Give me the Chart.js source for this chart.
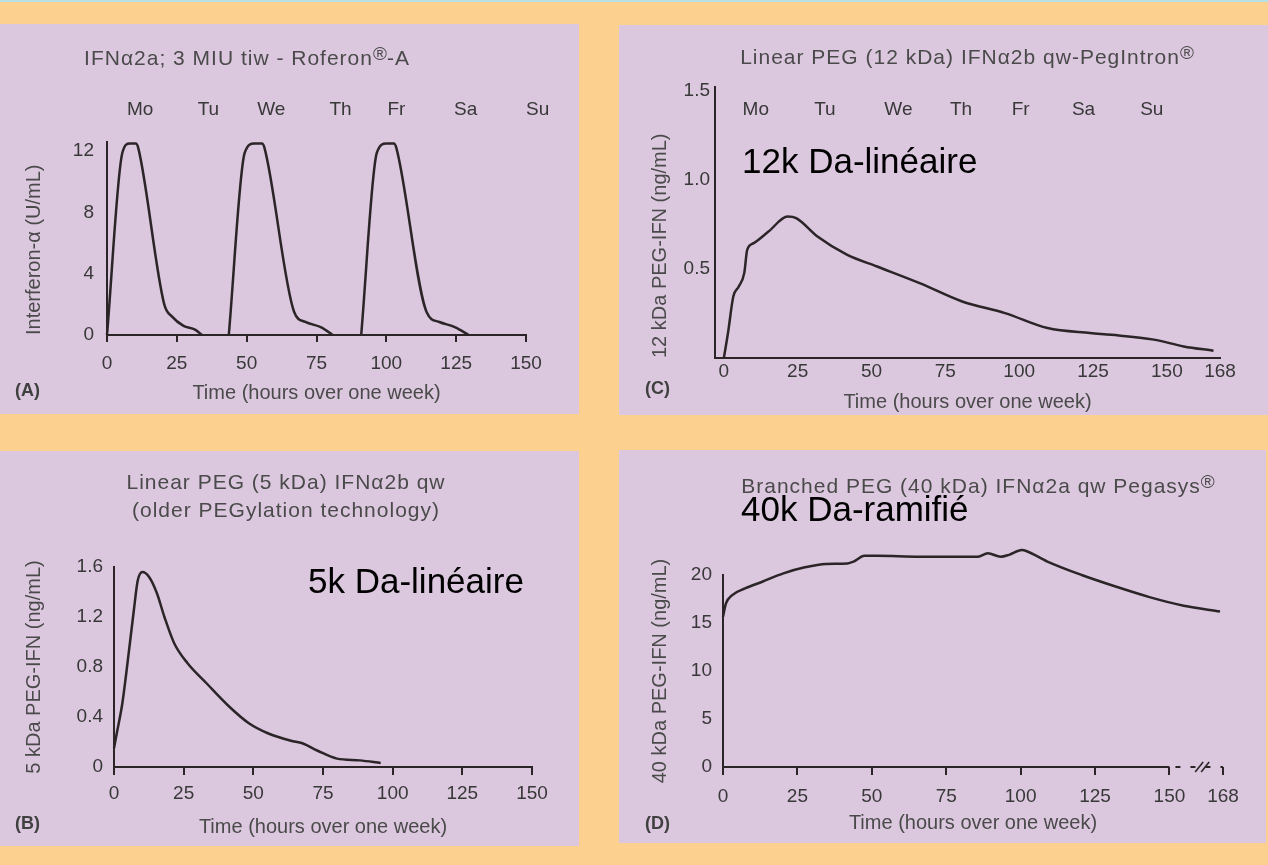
<!DOCTYPE html>
<html>
<head>
<meta charset="utf-8">
<title>PEG-IFN pharmacokinetics</title>
<script src="https://cdn.jsdelivr.net/npm/chart.js@4.4.1/dist/chart.umd.min.js"></script>
<style>
  html, body { margin: 0; padding: 0; }
  body { width: 1268px; height: 865px; position: relative; overflow: hidden; background: #fcd08e; font-family: "Liberation Sans", Arial, sans-serif; }
  .strip { position: absolute; left: 0; top: 0; width: 1268px; height: 2px; background: #b7dfe4; }
  .panel { position: absolute; background: #dbc7de; }
  .panel canvas { position: absolute; left: 0; top: 0; }
  .title { position: absolute; transform: translate(-50%, -50%); color: #4a4a4a; font-size: 21px; letter-spacing: 1px; line-height: 28px; text-align: center; white-space: nowrap; }
  .reg { font-size: 0.9em; vertical-align: 0.25em; letter-spacing: 0; }
  .note { position: absolute; color: #000; font-size: 35px; line-height: 35px; white-space: nowrap; }
  .tag { position: absolute; color: #404040; font-size: 18px; line-height: 18px; font-weight: bold; }
</style>
</head>
<body>
<div class="strip"></div>

<div class="panel" style="left:0;top:24px;width:579px;height:390px"><canvas id="chartA" width="579" height="390"></canvas></div>
<div class="panel" style="left:619px;top:25px;width:649px;height:390px"><canvas id="chartC" width="649" height="390"></canvas></div>
<div class="panel" style="left:0;top:451px;width:579px;height:395px"><canvas id="chartB" width="579" height="395"></canvas></div>
<div class="panel" style="left:619px;top:450px;width:647px;height:393px"><canvas id="chartD" width="647" height="393"></canvas></div>

<div class="title" style="left:247px;top:56px">IFNα2a; 3 MIU tiw - Roferon<span class="reg">®</span>-A</div>
<div class="title" style="left:967px;top:55px">Linear PEG (12 kDa) IFNα2b qw-PegIntron<span class="reg">®</span></div>
<div class="title" style="left:286px;top:496px">Linear PEG (5 kDa) IFNα2b qw<br>(older PEGylation technology)</div>
<div class="title" style="left:978px;top:484px">Branched PEG (40 kDa) IFNα2a qw Pegasys<span class="reg">®</span></div>

<div class="note" style="left:742px;top:143px">12k Da-linéaire</div>
<div class="note" style="left:308px;top:563px">5k Da-linéaire</div>
<div class="note" style="left:741px;top:491px">40k Da-ramifié</div>

<div class="tag" style="left:15px;top:381px">(A)</div>
<div class="tag" style="left:645px;top:379px">(C)</div>
<div class="tag" style="left:15px;top:814px">(B)</div>
<div class="tag" style="left:645px;top:814px">(D)</div>

<script>
Chart.defaults.font.family = '"Liberation Sans", Arial, sans-serif';
Chart.defaults.animation = false;

const inkColor = '#2b2528';
const tickColor = '#383838';
const labelColor = '#4a4a4a';
const timeLabel = 'Time (hours over one week)';

// day names written along the top of A and C
const weekdays = ['Mo', 'Tu', 'We', 'Th', 'Fr', 'Sa', 'Su'];
const roferonDayHours = [11.9, 36.3, 58.8, 83.6, 103.6, 128.4, 154.2];
const pegIntronDayHours = [10.8, 34.2, 59.1, 80.3, 100.5, 121.8, 144.9];

// tick values
const hoursTicks150 = [0, 25, 50, 75, 100, 125, 150];
const hoursTicks168 = [0, 25, 50, 75, 100, 125, 150, 168];
const roferonLevelTicks = [0, 4, 8, 12];
const peg5LevelTicks = [0, 0.4, 0.8, 1.2, 1.6];
const peg12LevelTicks = [0.5, 1.0, 1.5];
const peg40LevelTicks = [0, 5, 10, 15, 20];

// (A) IFNa2a 3 MIU three times a week, U/mL
const roferonDose1Hours = [0, 5.5, 8.2, 10.3, 11.2, 20.5, 23.3, 27.4, 31.5, 34];
const roferonDose1Level = [0, 11.9, 12.5, 12.5, 12.2, 2.0, 1.2, 0.6, 0.35, 0];
const roferonDose2Hours = [43.6, 49.3, 52.7, 55.5, 56.4, 67, 71, 76.7, 80.8];
const roferonDose2Level = [0, 11.9, 12.5, 12.5, 12.2, 1.5, 0.85, 0.5, 0];
const roferonDose3Hours = [91, 96.6, 100, 102.7, 103.6, 114.4, 119, 124.7, 129.5];
const roferonDose3Level = [0, 11.9, 12.5, 12.5, 12.2, 1.5, 0.85, 0.5, 0];

// (B) linear 5 kDa PEG, ng/mL
const peg5Hours = [0, 1, 3, 4.4, 7.1, 8.5, 10.2, 12.6, 15.4, 18.1, 21.6, 26.4, 33.2, 41.5, 48.4, 55.2, 63.5, 67.6, 73.1, 80, 88.2, 95.7];
const peg5Level = [0.15, 0.27, 0.51, 0.75, 1.25, 1.49, 1.56, 1.52, 1.39, 1.2, 0.99, 0.83, 0.67, 0.48, 0.35, 0.27, 0.21, 0.19, 0.13, 0.067, 0.053, 0.032];

// (C) linear 12 kDa PEG, ng/mL
const peg12Hours = [0, 1.4, 3.2, 5, 6.9, 7.9, 10.1, 15.1, 21.6, 24.5, 31.7, 41.8, 51.9, 66.3, 80.7, 95.2, 109.6, 124, 131.2, 145.6, 155.7, 165.8];
const peg12Level = [0, 0.14, 0.345, 0.4, 0.476, 0.606, 0.644, 0.709, 0.793, 0.784, 0.681, 0.578, 0.513, 0.42, 0.317, 0.252, 0.168, 0.14, 0.13, 0.103, 0.065, 0.041];

// (D) branched 40 kDa PEG, ng/mL
const peg40Hours = [0, 1, 3.1, 7.4, 13.2, 20.3, 27.5, 34.6, 41.8, 43.9, 47.5, 51.8, 66.1, 85.4, 89, 93.3, 96.1, 100.4, 101.9, 109, 120.5, 131.9, 143.3, 154.8, 167];
const peg40Level = [15.65, 17.04, 17.91, 18.6, 19.3, 20.17, 20.8, 21.15, 21.2, 21.4, 22.0, 22.0, 21.9, 21.9, 22.26, 21.9, 22.1, 22.6, 22.5, 21.4, 20.0, 18.8, 17.7, 16.8, 16.2];

// draws the weekday names above the plot, placed with the x scale
const dayLabels = {
  id: 'dayLabels',
  afterDraw(chart, args, opts) {
    if (!opts.hours) return;
    const ctx = chart.ctx;
    const x = chart.scales.x;
    ctx.save();
    ctx.font = '19px "Liberation Sans", Arial, sans-serif';
    ctx.fillStyle = tickColor;
    ctx.textAlign = 'center';
    ctx.textBaseline = 'middle';
    opts.hours.forEach((h, i) => ctx.fillText(opts.names[i], x.getPixelForValue(h), opts.y));
    ctx.restore();
  }
};

// solid time axis up to 150 h, then dashed with a break mark up to 168 h
const axisBreak = {
  id: 'axisBreak',
  afterDraw(chart, args, opts) {
    if (opts.from === undefined) return;
    const ctx = chart.ctx;
    const x = chart.scales.x, y = chart.scales.y;
    const y0 = y.getPixelForValue(0);
    const xa = x.getPixelForValue(x.min), xb = x.getPixelForValue(opts.from);
    const xc = x.getPixelForValue(x.max), xm = x.getPixelForValue(opts.at);
    ctx.save();
    ctx.strokeStyle = inkColor;
    ctx.lineWidth = 2;
    ctx.beginPath(); ctx.moveTo(xa, y0); ctx.lineTo(xb, y0); ctx.stroke();
    ctx.setLineDash([5, 10]);
    ctx.lineDashOffset = -6;
    ctx.beginPath(); ctx.moveTo(xb, y0); ctx.lineTo(xc, y0); ctx.stroke();
    ctx.setLineDash([]);
    ctx.lineWidth = 1.6;
    [-3, 3].forEach(d => {
      ctx.beginPath(); ctx.moveTo(xm + d - 4, y0 + 5); ctx.lineTo(xm + d + 4, y0 - 5); ctx.stroke();
    });
    ctx.restore();
  }
};

function pkChart(canvasId, cfg) {
  const canvas = document.getElementById(canvasId);
  const W = canvas.width, H = canvas.height;
  const area = cfg.area;
  return new Chart(canvas, {
    type: 'line',
    data: {
      datasets: cfg.series.map(s => ({
        data: s.hours.map((h, i) => ({ x: h, y: s.level[i] })),
        borderColor: inkColor,
        borderWidth: 2.5,
        pointRadius: 0,
        cubicInterpolationMode: 'monotone',
        fill: false,
        clip: false
      }))
    },
    options: {
      responsive: false,
      events: [],
      layout: { padding: { top: area.top, right: W - area.right, left: 0, bottom: 0 } },
      plugins: {
        legend: { display: false },
        tooltip: { enabled: false },
        dayLabels: cfg.days || {},
        axisBreak: cfg.axisBreak || {}
      },
      scales: {
        x: {
          type: 'linear',
          min: cfg.xMin,
          max: cfg.xMax,
          afterBuildTicks: s => { s.ticks = cfg.xTicks.map(v => ({ value: v })); },
          afterFit: s => { s.height = H - area.bottom; },
          border: { display: !cfg.axisBreak, color: inkColor, width: 2 },
          grid: { display: cfg.xTickLen > 0, drawOnChartArea: false, drawTicks: cfg.xTickLen > 0, tickLength: cfg.xTickLen, color: inkColor, lineWidth: 2 },
          ticks: { color: tickColor, font: { size: 19 }, padding: cfg.xTickPad, maxRotation: 0, autoSkip: false, callback: v => String(v) },
          title: { display: true, text: timeLabel, color: labelColor, font: { size: 20 }, padding: { top: 0, bottom: cfg.xTitlePad } }
        },
        y: {
          min: cfg.yMin,
          max: cfg.yMax,
          afterBuildTicks: s => { s.ticks = cfg.yTicks.map(v => ({ value: v })); },
          afterFit: s => { s.width = area.left; },
          border: { display: true, color: inkColor, width: 2 },
          grid: { display: false, drawTicks: false },
          ticks: { color: tickColor, font: { size: 19 }, padding: cfg.yTickPad, callback: cfg.yFormat },
          title: { display: true, text: cfg.yLabel, align: cfg.yTitleAlign, color: labelColor, font: { size: 20 }, padding: { top: cfg.yTitlePad, bottom: 0 } }
        }
      }
    },
    plugins: [dayLabels, axisBreak]
  });
}

pkChart('chartA', {
  area: { left: 107, right: 526, top: 118, bottom: 311 },
  series: [
    { hours: roferonDose1Hours, level: roferonDose1Level },
    { hours: roferonDose2Hours, level: roferonDose2Level },
    { hours: roferonDose3Hours, level: roferonDose3Level }
  ],
  xMin: 0, xMax: 150, xTicks: hoursTicks150, xTickLen: 7, xTickPad: 10, xTitlePad: 9,
  yMin: 0, yMax: 12.6, yTicks: roferonLevelTicks, yTickPad: 13, yFormat: v => String(v),
  yLabel: 'Interferon-α (U/mL)', yTitleAlign: 'start', yTitlePad: 22,
  days: { names: weekdays, hours: roferonDayHours, y: 86 }
});

pkChart('chartB', {
  area: { left: 114, right: 532, top: 116, bottom: 316 },
  series: [{ hours: peg5Hours, level: peg5Level }],
  xMin: 0, xMax: 150, xTicks: hoursTicks150, xTickLen: 8, xTickPad: 7, xTitlePad: 7,
  yMin: 0, yMax: 1.6, yTicks: peg5LevelTicks, yTickPad: 11, yFormat: v => (v === 0 ? '0' : v.toFixed(1)),
  yLabel: '5 kDa PEG-IFN (ng/mL)', yTitleAlign: 'center', yTitlePad: 22
});

pkChart('chartC', {
  area: { left: 96, right: 601, top: 62, bottom: 333 },
  series: [{ hours: peg12Hours, level: peg12Level }],
  xMin: -3, xMax: 168, xTicks: hoursTicks168, xTickLen: 0, xTickPad: 2, xTitlePad: 1,
  yMin: 0, yMax: 1.52, yTicks: peg12LevelTicks, yTickPad: 5, yFormat: v => v.toFixed(1),
  yLabel: '12 kDa PEG-IFN (ng/mL)', yTitleAlign: 'start', yTitlePad: 29,
  days: { names: weekdays, hours: pegIntronDayHours, y: 85 }
});

pkChart('chartD', {
  area: { left: 104, right: 604, top: 125, bottom: 317 },
  series: [{ hours: peg40Hours, level: peg40Level }],
  xMin: 0, xMax: 168, xTicks: hoursTicks168, xTickLen: 8, xTickPad: 10, xTitlePad: 8,
  yMin: 0, yMax: 20, yTicks: peg40LevelTicks, yTickPad: 11, yFormat: v => String(v),
  yLabel: '40 kDa PEG-IFN (ng/mL)', yTitleAlign: 'center', yTitlePad: 29,
  axisBreak: { from: 150, at: 161 }
});
</script>
</body>
</html>
